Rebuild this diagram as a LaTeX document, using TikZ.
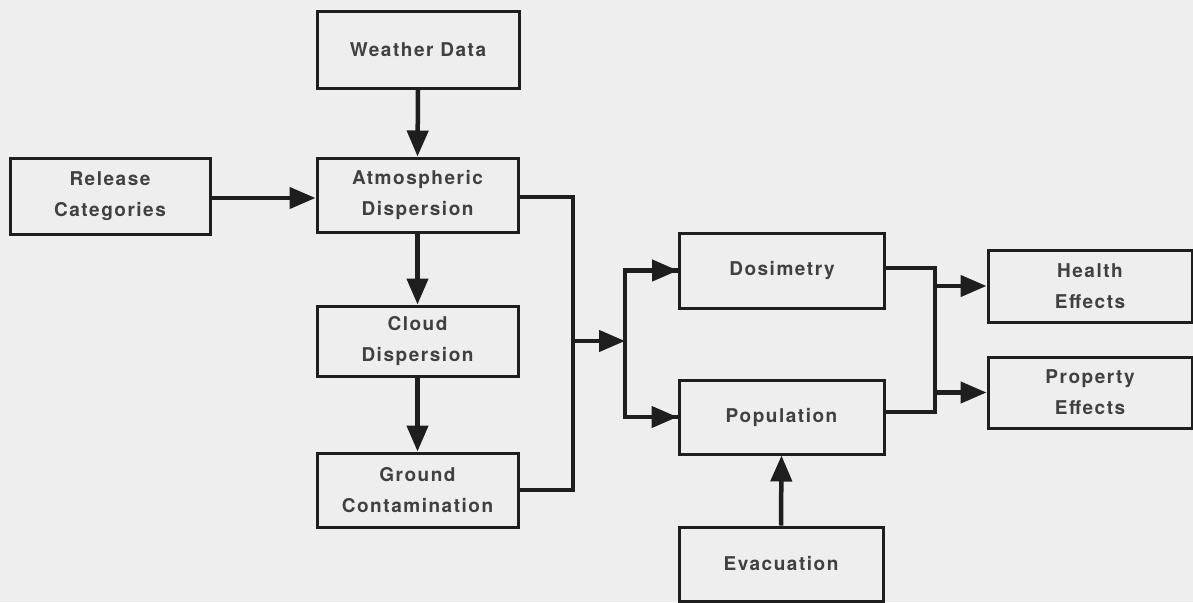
\documentclass[tikz,border=0pt]{standalone}
\usepackage{fontspec}
\setmainfont[LetterSpace=8]{TeX Gyre Heros}
\usetikzlibrary{arrows.meta}
\definecolor{ink}{HTML}{1E1E1E}
\definecolor{paper}{HTML}{EEEEEE}
\begin{document}
\begin{tikzpicture}[x=1pt,y=-1pt,
  box/.style={draw=ink,line width=3pt,rectangle,align=center,inner sep=0pt,
    font=\fontsize{19}{31}\selectfont\bfseries,text=ink!85},
  conn/.style={draw=ink,line width=4.5pt},
  arr/.style={conn,-{Triangle[length=26pt,width=21pt]}}]
\path[fill=paper] (0,0) rectangle (1193,602);
\useasboundingbox (0,0) rectangle (1193,602);
\node[box,minimum width=202pt,minimum height=76pt] (wd) at (418,50) {Weather Data};
\node[box,minimum width=200pt,minimum height=76pt] (rc) at (110,196) {Release\\Categories};
\node[box,minimum width=201pt,minimum height=74pt] (ad) at (417.5,195) {Atmospheric\\Dispersion};
\node[box,minimum width=201pt,minimum height=70pt] (cd) at (417.5,341) {Cloud\\Dispersion};
\node[box,minimum width=201pt,minimum height=74pt] (gc) at (417.5,490) {Ground\\Contamination};
\node[box,minimum width=205pt,minimum height=75pt] (dos) at (782,270.5) {Dosimetry};
\node[box,minimum width=205pt,minimum height=74pt] (pop) at (781.5,417) {Population};
\node[box,minimum width=204pt,minimum height=74pt] (evac) at (781,564) {Evacuation};
\node[box,minimum width=204pt,minimum height=72pt] (he) at (1090,286) {Health\\Effects};
\node[box,minimum width=204pt,minimum height=71pt] (pe) at (1090,392.5) {Property\\Effects};
\coordinate (j1) at (573,341);
\coordinate (j2) at (625,341);
\coordinate (j3) at (935,340);
\draw[arr] (wd.south) -- (ad.north);
\draw[arr] (rc.east |- 0,198) -- (ad.west |- 0,198);
\draw[arr] (ad.south) -- (cd.north);
\draw[arr] (cd.south) -- (gc.north);
\draw[conn] (ad.east |- 0,197) -| (j1) |- (gc.east);
\draw[arr] (j1) -- (j2);
\draw[conn] (j2) |- (dos.west);
\draw[conn] (j2) |- (pop.west);
\draw[arr] (j2 |- dos.west) -- (dos.west);
\draw[arr] (j2 |- pop.west) -- (pop.west);
\draw[conn] (dos.east |- 0,268) -| (j3) |- (pop.east |- 0,412);
\draw[arr] (j3 |- he.west) -- (he.west);
\draw[arr] (j3 |- pe.west) -- (pe.west);
\draw[arr] (evac.north) -- (pop.south);
\end{tikzpicture}
\end{document}
